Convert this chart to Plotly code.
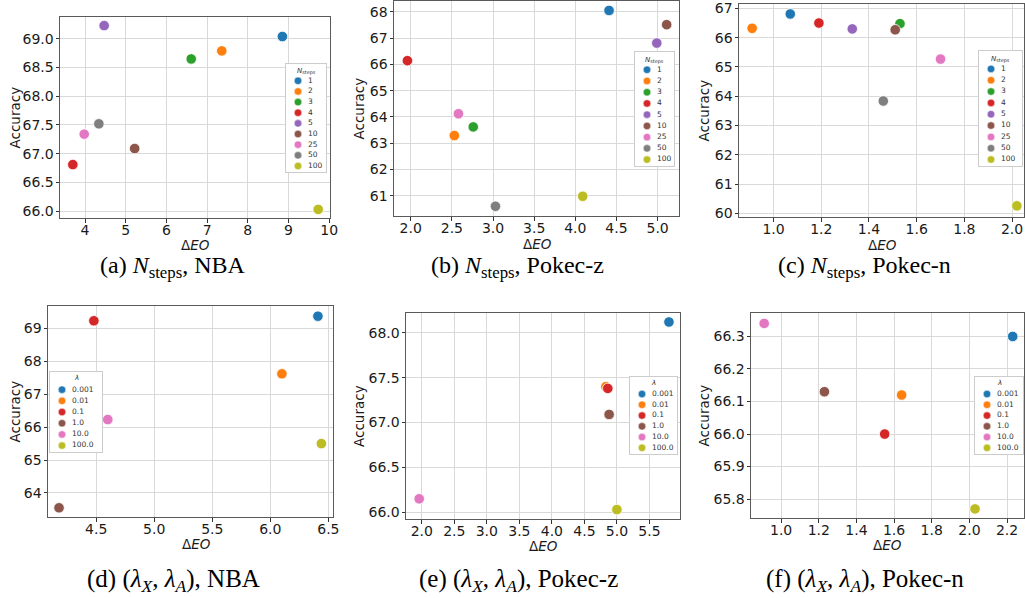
import plotly.graph_objects as go

W, H = 1025, 598

# ---------------- data ----------------
steps_labels = ["1", "2", "3", "4", "5", "10", "25", "50", "100"]
steps_colors = ["#1f77b4", "#ff7f0e", "#2ca02c", "#d62728", "#9467bd",
                "#8c564b", "#e377c2", "#7f7f7f", "#bcbd22"]
lam_labels = ["0.001", "0.01", "0.1", "1.0", "10.0", "100.0"]
lam_colors = ["#1f77b4", "#ff7f0e", "#d62728", "#8c564b", "#e377c2", "#bcbd22"]

nba_steps_eo = [8.85, 7.36, 6.61, 3.70, 4.47, 5.22, 3.98, 4.34, 9.73]
nba_steps_acc = [69.04, 68.79, 68.65, 66.81, 69.23, 67.09, 67.34, 67.52, 66.03]
pz_steps_eo = [4.41, 2.53, 2.76, 1.96, 4.99, 5.11, 2.58, 3.03, 4.09]
pz_steps_acc = [68.05, 63.29, 63.62, 66.14, 66.81, 67.51, 64.12, 60.60, 60.98]
pn_steps_eo = [1.07, 0.91, 1.53, 1.19, 1.33, 1.51, 1.70, 1.46, 2.02]
pn_steps_acc = [66.81, 66.32, 66.48, 66.50, 66.30, 66.27, 65.27, 63.84, 60.26]

nba_lam_eo = [6.41, 6.10, 4.48, 4.18, 4.60, 6.44]
nba_lam_acc = [69.37, 67.62, 69.23, 63.55, 66.23, 65.50]
pz_lam_eo = [5.80, 4.83, 4.86, 4.88, 1.96, 5.00]
pz_lam_acc = [68.12, 67.40, 67.38, 67.09, 66.15, 66.03]
pn_lam_eo = [2.23, 1.64, 1.55, 1.23, 0.91, 2.03]
pn_lam_acc = [66.30, 66.12, 66.00, 66.13, 66.34, 65.77]

x_title = "Δ<i>EO</i>"
y_title = "Accuracy"
steps_title = "<i>N</i><sub>steps</sub>"
lam_title = "<i>λ</i>"
lamxa = "(<i>λ</i><sub><i>X</i></sub>, <i>λ</i><sub><i>A</i></sub>)"
nsteps = "<i>N</i><sub>steps</sub>"

# ---------------- layout config (pixel boxes) ----------------
panels = [
    dict(eo=nba_steps_eo, acc=nba_steps_acc, labels=steps_labels, colors=steps_colors,
         ltitle=steps_title, box=(60, 17, 330, 218), xr=[3.385, 10.02], yr=[65.88, 69.38],
         xt=(4, 1, ".0f"), yt=(66, 0.5, ".1f"), lbox=(286, 64, 326, 172),
         xtit=(195, 245), ytit=(14, 117.5),
         cap="(a) " + nsteps + ", NBA", capxy=(173, 267), capsize=24),
    dict(eo=pz_steps_eo, acc=pz_steps_acc, labels=steps_labels, colors=steps_colors,
         ltitle=steps_title, box=(394, 1, 679, 216), xr=[1.797, 5.26], yr=[60.23, 68.41],
         xt=(2, 0.5, ".1f"), yt=(60, 1, ".0f"), lbox=(635, 52, 674, 166),
         xtit=(537, 244), ytit=(359, 108.5),
         cap="(b) " + nsteps + ", Pokec-z", capxy=(517, 267), capsize=24),
    dict(eo=pn_steps_eo, acc=pn_steps_acc, labels=steps_labels, colors=steps_colors,
         ltitle=steps_title, box=(739, 4, 1024, 217), xr=[0.855, 2.05], yr=[59.88, 67.15],
         xt=(1, 0.2, ".1f"), yt=(60, 1, ".0f"), lbox=(979, 51, 1022, 166),
         xtit=(882, 245), ytit=(704, 110.5),
         cap="(c) " + nsteps + ", Pokec-n", capxy=(864, 267), capsize=24),
    dict(eo=nba_lam_eo, acc=nba_lam_acc, labels=lam_labels, colors=lam_colors,
         ltitle=lam_title, box=(48, 306, 333, 517), xr=[4.085, 6.54], yr=[63.27, 69.68],
         xt=(4.5, 0.5, ".1f"), yt=(64, 1, ".0f"), lbox=(50, 372, 102, 452),
         xtit=(196, 544), ytit=(14, 411.5),
         cap="(d) " + lamxa + ", NBA", capxy=(173, 580), capsize=25),
    dict(eo=pz_lam_eo, acc=pz_lam_acc, labels=lam_labels, colors=lam_colors,
         ltitle=lam_title, box=(406, 313, 680, 519), xr=[1.757, 5.97], yr=[65.925, 68.22],
         xt=(2, 0.5, ".1f"), yt=(66, 0.5, ".1f"), lbox=(630, 377, 677, 454),
         xtit=(543, 546), ytit=(359, 416),
         cap="(e) " + lamxa + ", Pokec-z", capxy=(518, 580), capsize=25),
    dict(eo=pn_lam_eo, acc=pn_lam_acc, labels=lam_labels, colors=lam_colors,
         ltitle=lam_title, box=(751, 313, 1024, 518), xr=[0.84, 2.29], yr=[65.742, 66.372],
         xt=(1, 0.2, ".1f"), yt=(65.8, 0.1, ".1f"), lbox=(975, 377, 1023, 454),
         xtit=(887, 545), ytit=(703, 415.5),
         cap="(f) " + lamxa + ", Pokec-n", capxy=(865, 580), capsize=25),
]

TICK_FONT = dict(family="DejaVu Sans", size=14, color="#1a1a1a")
TITLE_FONT = dict(family="DejaVu Sans", size=13.5, color="#1a1a1a")
LEG_FONT = dict(family="DejaVu Sans", size=7.5, color="#333333")


def xdom(l, r):
    return [l / W, r / W]


def ydom(t, b):
    return [1 - b / H, 1 - t / H]


def px(x):
    return x / W


def py(y):
    return 1 - y / H


fig = go.Figure()
layout = dict(
    width=W, height=H, margin=dict(l=0, r=0, t=0, b=0),
    paper_bgcolor="white", plot_bgcolor="white", showlegend=False,
    template="none",
)
annotations = []

n = len(panels)
# main panels
for i, p in enumerate(panels):
    k = i + 1
    sfx = "" if k == 1 else str(k)
    fig.add_trace(go.Scatter(
        x=p["eo"], y=p["acc"], mode="markers",
        marker=dict(size=10.5, color=p["colors"], line=dict(color="white", width=0.8)),
        xaxis="x" + sfx, yaxis="y" + sfx, hoverinfo="x+y", cliponaxis=False,
    ))
    l, t, r, b = p["box"]
    common = dict(
        showline=True, mirror=True, linecolor="#5a5a5a", linewidth=1,
        showgrid=True, gridcolor="#d9d9d9", gridwidth=1, zeroline=False,
        ticks="outside", ticklen=3.5, tickwidth=1, tickcolor="#333333",
        tickfont=TICK_FONT, automargin=False, ticklabeloverflow="allow",
    )
    layout["xaxis" + sfx] = dict(
        common, domain=xdom(l, r), range=p["xr"], anchor="y" + sfx,
        tick0=p["xt"][0], dtick=p["xt"][1], tickformat=p["xt"][2],
        ticklabelstandoff=-4,
    )
    layout["yaxis" + sfx] = dict(
        common, domain=ydom(t, b), range=p["yr"], anchor="x" + sfx,
        tick0=p["yt"][0], dtick=p["yt"][1], tickformat=p["yt"][2],
        ticklabelstandoff=-1,
    )
    # axis titles
    xx, xy = p["xtit"]
    annotations.append(dict(
        text=x_title, x=px(xx), y=py(xy), xref="paper", yref="paper",
        xanchor="center", yanchor="middle", showarrow=False, font=TITLE_FONT,
    ))
    yx, yy = p["ytit"]
    annotations.append(dict(
        text=y_title, x=px(yx), y=py(yy), xref="paper", yref="paper", textangle=-90,
        xanchor="center", yanchor="middle", showarrow=False, font=TITLE_FONT,
    ))
    # sub-figure caption
    cx, cy = p["capxy"]
    annotations.append(dict(
        text=p["cap"], x=px(cx), y=py(cy), xref="paper", yref="paper",
        xanchor="center", yanchor="middle", showarrow=False,
        font=dict(family="Liberation Serif", size=p["capsize"], color="black"),
    ))

# legend insets (small framed axes so they stay compact like the original)
for i, p in enumerate(panels):
    k = n + i + 1
    sfx = str(k)
    l, t, r, b = p["lbox"]
    m = len(p["labels"])
    idx = list(range(m))
    wpx = r - l
    fig.add_trace(go.Scatter(
        x=[12] * m, y=idx, mode="markers",
        marker=dict(size=7.5, color=p["colors"], line=dict(color="white", width=0.5)),
        xaxis="x" + sfx, yaxis="y" + sfx, hoverinfo="skip",
    ))
    fig.add_trace(go.Scatter(
        x=[22] * m, y=idx, mode="text", text=p["labels"], textposition="middle right",
        textfont=LEG_FONT, xaxis="x" + sfx, yaxis="y" + sfx, hoverinfo="skip",
    ))
    lax = dict(showline=True, mirror=True, linecolor="#cccccc", linewidth=1,
               showgrid=False, zeroline=False, showticklabels=False, ticks="",
               fixedrange=True, automargin=False)
    layout["xaxis" + sfx] = dict(lax, domain=xdom(l, r), range=[0, wpx], anchor="y" + sfx)
    layout["yaxis" + sfx] = dict(lax, domain=ydom(t, b), range=[m - 0.43, -1.58],
                                 anchor="x" + sfx)
    ty = -0.85 if p["ltitle"] == steps_title else -1.05
    annotations.append(dict(
        text=p["ltitle"], x=wpx / 2, y=ty, xref="x" + sfx, yref="y" + sfx,
        xanchor="center", yanchor="middle", showarrow=False,
        font=dict(family="DejaVu Sans", size=7, color="#333333"),
    ))

layout["annotations"] = annotations
fig.update_layout(**layout)
fig.write_html(
    "out.html",
    config={"displayModeBar": False},
    post_script="document.body.style.margin='0';document.body.style.overflow='hidden';",
)
